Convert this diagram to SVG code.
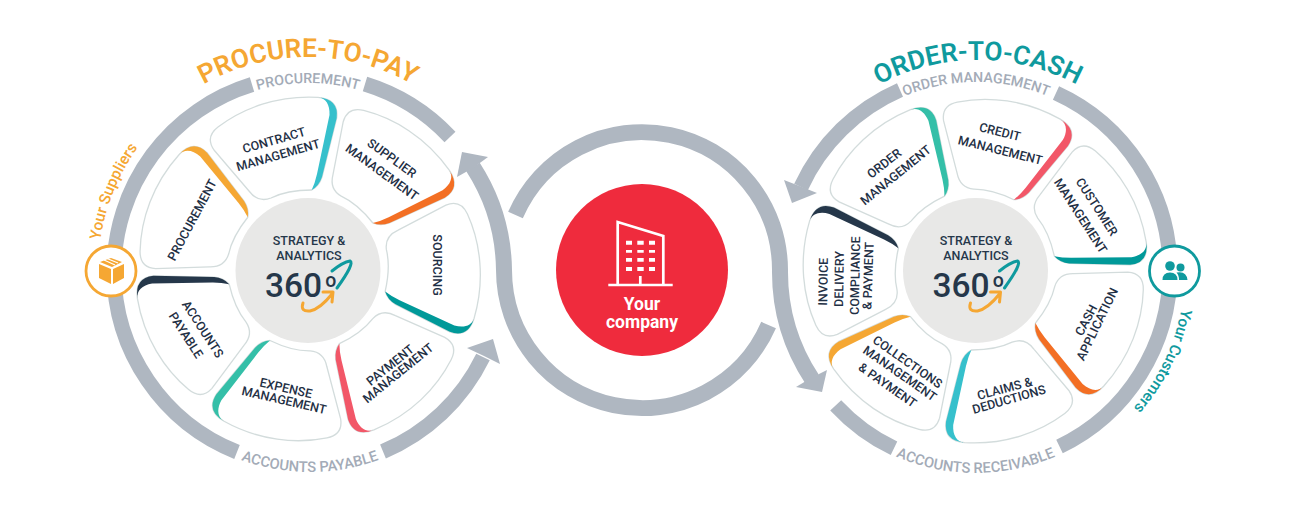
<svg xmlns="http://www.w3.org/2000/svg" width="1307" height="506" viewBox="0 0 1307 506">
<style>
text{font-family:Roboto,"Liberation Sans",sans-serif}
.t{font-size:12.500px;font-weight:500;fill:#1f3045;text-anchor:middle;dominant-baseline:central}
.s{font-size:12.500px;font-weight:500;fill:#25374a;text-anchor:middle}
.n{font-size:33.500px;font-weight:500;fill:#25374a}
.ring{font-size:14.200px;font-weight:500;fill:#a3abb7;text-anchor:middle}
.ringb{font-size:14.700px;font-weight:500;fill:#a3abb7;text-anchor:middle}
.title{font-size:26.300px;font-weight:600;text-anchor:middle}
.side{font-size:15.500px;font-weight:500}
.seg{fill:none;stroke:#afb7c1;stroke-width:15}
.flow{fill:none;stroke:#afb7c1;stroke-width:16}
.head{fill:#afb7c1}
.card{fill:#fff;stroke:#d3dcdc;stroke-width:1.300}
.hub{fill:#e8e8e7}
.sw{fill:none;stroke-width:3;stroke-linecap:round;stroke-linejoin:round}
.bldg{fill:none;stroke:#fff;stroke-width:2.700}
</style>
<defs>
<path id="cardShape" d="M10,-172.700C-30,-175 -65,-162 -90,-143Q-103,-133 -94,-120L-59,-79Q-50,-67 -37,-72C-25,-78 -10,-80 3.700,-80Q11,-84 14,-93L28.700,-152Q31,-171 10,-172.700Z"/>
<path id="cardBand" d="M10,-172.700C18,-172 22,-165 21.500,-155L9,-96Q7,-87 3.700,-80Q11,-84 14,-93L28.700,-152Q31,-171 10,-172.700Z"/>
<path id="arcTopL" d="M95,270A213,213 0 0 1 521,270"/>
<path id="arcTopR" d="M768,270A210,210 0 0 1 1188,270"/>
<path id="ringTopL" d="M121,270A187,187 0 0 1 495,270"/>
<path id="ringTopR" d="M788,270A188,188 0 0 1 1164,270"/>
<path id="ringBotL" d="M108,270A202,202 0 0 0 512,270"/>
<path id="ringBotR" d="M772.500,270A203,203 0 0 0 1178.500,270"/>
<path id="sideL" d="M98,271A211,211 0 0 1 520,271"/>
<path id="sideR" d="M1185,270A210,210 0 0 1 765,270"/>
</defs>

<g id="connectors">
<path class="seg" d="M365,84A195,195 0 0 1 450,137"/>
<path class="seg" d="M252,84.500A195,195 0 0 0 114,271A195,195 0 0 0 237,452"/>
<path class="seg" d="M383,451.500A195,195 0 0 0 483,357"/>
<polygon class="head" points="467,348 493,339 500,364 484,356"/>
<path class="seg" d="M900,90A195,195 0 0 0 801,187"/>
<polygon class="head" points="784,180 792,203 817,193 802,187"/>
<path class="seg" d="M1056,93A195,195 0 0 1 1170,270A195,195 0 0 1 1059.500,446.500"/>
<path class="seg" d="M894,448.300A195,195 0 0 1 835.700,405.300"/>
<path class="flow" d="M515.500,215A138,138 0 0 1 780,270A195,195 0 0 0 812,379"/>
<polygon class="head" points="796,387 822,392 827,370 811,378"/>
<path class="flow" d="M768.600,325A138,138 0 0 1 504,270A195,195 0 0 0 473,167"/>
<polygon class="head" points="488,157 462,152 457,177 473,168"/>
</g>

<g id="hub-left">
<circle class="hub" cx="308" cy="270.500" r="72.500"/>
<text class="s" x="309" y="245">STRATEGY &amp;</text>
<text class="s" x="309" y="260">ANALYTICS</text>
<text class="n" x="265" y="297">360<tspan font-size="19.500" dx="3" dy="-10">o</tspan></text>
<path class="sw" stroke="#0f9a9e" stroke-width="2.500" d="M332,271Q343,262 350,261Q355,263 337,288"/>
<path class="sw" stroke="#f5a733" d="M303,303Q300,312 310,311Q320,309 332,294M323,292L333,292L332,302"/>
</g>
<g id="hub-right">
<circle class="hub" cx="975.500" cy="270.500" r="72.500"/>
<text class="s" x="976" y="245">STRATEGY &amp;</text>
<text class="s" x="976" y="260">ANALYTICS</text>
<text class="n" x="932.500" y="297">360<tspan font-size="19.500" dx="3" dy="-10">o</tspan></text>
<path class="sw" stroke="#0f9a9e" stroke-width="2.500" d="M999.500,271Q1010.500,262 1017.500,261Q1022.500,263 1004.500,288"/>
<path class="sw" stroke="#f5a733" d="M970.500,303Q967.500,312 977.500,311Q987.500,309 999.500,294M990.500,292L1000.500,292L999.500,302"/>
</g>

<g id="contract-management">
<g transform="translate(308 270)"><use href="#cardShape" class="card"/><use href="#cardBand" fill="#36c0cc"/></g>
<text class="t" transform="translate(274 140) rotate(-16)">CONTRACT</text>
<text class="t" transform="translate(278 155) rotate(-16)">MANAGEMENT</text>
</g>
<g id="supplier-management">
<g transform="translate(308 270) rotate(51.430)"><use href="#cardShape" class="card"/><use href="#cardBand" fill="#f36f24"/></g>
<text class="t" transform="translate(392 158) rotate(36)">SUPPLIER</text>
<text class="t" transform="translate(382 172) rotate(36)">MANAGEMENT</text>
</g>
<g id="sourcing">
<g transform="translate(308 270) rotate(102.860)"><use href="#cardShape" class="card"/><use href="#cardBand" fill="#009999"/></g>
<text class="t" transform="translate(437 265) rotate(90)">SOURCING</text>
</g>
<g id="payment-management">
<g transform="translate(308 270) rotate(154.290)"><use href="#cardShape" class="card"/><use href="#cardBand" fill="#f25768"/></g>
<text class="t" transform="translate(390 365) rotate(-39)">PAYMENT</text>
<text class="t" transform="translate(398 373) rotate(-39)">MANAGEMENT</text>
</g>
<g id="expense-management">
<g transform="translate(308 270) rotate(205.710)"><use href="#cardShape" class="card"/><use href="#cardBand" fill="#34bfa8"/></g>
<text class="t" transform="translate(286 388) rotate(13)">EXPENSE</text>
<text class="t" transform="translate(284 400) rotate(13)">MANAGEMENT</text>
</g>
<g id="accounts-payable">
<g transform="translate(308 270) rotate(257.140)"><use href="#cardShape" class="card"/><use href="#cardBand" fill="#25374a"/></g>
<text class="t" transform="translate(203 329) rotate(57)">ACCOUNTS</text>
<text class="t" transform="translate(186 335) rotate(57)">PAYABLE</text>
</g>
<g id="procurement">
<g transform="translate(308 270) rotate(308.570)"><use href="#cardShape" class="card"/><use href="#cardBand" fill="#f5a733"/></g>
<text class="t" transform="translate(192 220) rotate(-62)">PROCUREMENT</text>
</g>

<g id="order-management">
<g transform="translate(975.500 270) rotate(-25.400)"><use href="#cardShape" class="card"/><use href="#cardBand" fill="#34bfa8"/></g>
<text class="t" transform="translate(884 163.300) rotate(-38)">ORDER</text>
<text class="t" transform="translate(895.500 175) rotate(-39)">MANAGEMENT</text>
</g>
<g id="credit-management">
<g transform="translate(975.500 270) rotate(26)"><use href="#cardShape" class="card"/><use href="#cardBand" fill="#f25768"/></g>
<text class="t" transform="translate(1000 131.700) rotate(14)">CREDIT</text>
<text class="t" transform="translate(1000.300 150) rotate(14)">MANAGEMENT</text>
</g>
<g id="customer-management">
<g transform="translate(975.500 270) rotate(77.400)"><use href="#cardShape" class="card"/><use href="#cardBand" fill="#009999"/></g>
<text class="t" transform="translate(1097 206.700) rotate(57)">CUSTOMER</text>
<text class="t" transform="translate(1080.700 215.700) rotate(57)">MANAGEMENT</text>
</g>
<g id="cash-application">
<g transform="translate(975.500 270) rotate(128.900)"><use href="#cardShape" class="card"/><use href="#cardBand" fill="#f36f24"/></g>
<text class="t" transform="translate(1086 320) rotate(-62)">CASH</text>
<text class="t" transform="translate(1097 324) rotate(-64)">APPLICATION</text>
</g>
<g id="claims-deductions">
<g transform="translate(975.500 270) rotate(180.300)"><use href="#cardShape" class="card"/><use href="#cardBand" fill="#36c0cc"/></g>
<text class="t" transform="translate(1004.700 388.300) rotate(-15)">CLAIMS &amp;</text>
<text class="t" transform="translate(1009 399.300) rotate(-16)">DEDUCTIONS</text>
</g>
<g id="collections-management">
<g transform="translate(975.500 270) rotate(231.700)"><use href="#cardShape" class="card"/><use href="#cardBand" fill="#f5a733"/></g>
<text class="t" transform="translate(907.700 361.700) rotate(35)">COLLECTIONS</text>
<text class="t" transform="translate(900 373.300) rotate(35)">MANAGEMENT</text>
<text class="t" transform="translate(887.700 385) rotate(35)">&amp; PAYMENT</text>
</g>
<g id="invoice-delivery">
<g transform="translate(975.500 270) rotate(283.100)"><use href="#cardShape" class="card"/><use href="#cardBand" fill="#25374a"/></g>
<text class="t" transform="translate(823 281.700) rotate(-89)">INVOICE</text>
<text class="t" transform="translate(839 279) rotate(-89)">DELIVERY</text>
<text class="t" transform="translate(855 275.700) rotate(-89)">COMPLIANCE</text>
<text class="t" transform="translate(868 275.700) rotate(-88)">&amp; PAYMENT</text>
</g>

<g id="your-company">
<circle cx="642" cy="270" r="86" fill="#ef2b3d"/>
<path class="bldg" d="M617.700,285V222L663.300,236V285M608.300,285H672.700M640.300,276V285"/>
<path fill="#fff" d="M626,240.700h6v4h-6zM637.300,240.700h6.400v4h-6.400zM649,240.700h6v4h-6zM626,250h6v2.700h-6zM637.300,250h6.400v2.700h-6.400zM649,250h6v2.700h-6zM626,258h6v3.700h-6zM637.300,258h6.400v3.700h-6.400zM649,258h6v3.700h-6zM626,267h6v4h-6zM637.300,267h6.400v4h-6.400zM649,267h6v4h-6z"/>
<text x="642" y="310" text-anchor="middle" font-size="17.500" font-weight="700" fill="#fff">Your</text>
<text x="642" y="328" text-anchor="middle" font-size="17.500" font-weight="700" fill="#fff">company</text>
</g>

<g id="your-suppliers">
<circle cx="111" cy="271" r="25" fill="#fff" stroke="#f5a733" stroke-width="2.800"/>
<path fill="#f5a733" d="M99,264L111,269V284L99,278ZM113,269L124,264V278L113,284ZM100,262L111,258L122,262L112,267Z"/>
<path fill="none" stroke="#fff" stroke-width="1.200" d="M104,260L115,265M107,258.500L118,263"/>
<text class="side" fill="#f5a733"><textPath href="#sideL" startOffset="31">Your Suppliers</textPath></text>
</g>
<g id="your-customers">
<circle cx="1174.500" cy="271" r="25" fill="#fff" stroke="#0f9a9e" stroke-width="2.800"/>
<g fill="#0f9a9e"><circle cx="1170" cy="266" r="4.800"/><circle cx="1180.500" cy="267.500" r="4"/><path d="M1162.500,280Q1162.500,272.500 1170,272.500Q1177.500,272.500 1177.500,280ZM1179,280Q1179,275 1176.500,272.500Q1186.500,270.500 1187.500,280Z"/></g>
<text class="side" fill="#0f9a9e"><textPath href="#sideR" startOffset="39">Your Customers</textPath></text>
</g>

<g id="labels">
<text class="title" fill="#f5a733"><textPath href="#arcTopL" startOffset="50%">PROCURE-TO-PAY</textPath></text>
<text class="title" fill="#0f9a9e"><textPath href="#arcTopR" startOffset="50%">ORDER-TO-CASH</textPath></text>
<text class="ring"><textPath href="#ringTopL" startOffset="50%">PROCUREMENT</textPath></text>
<text class="ring"><textPath href="#ringTopR" startOffset="50%">ORDER MANAGEMENT</textPath></text>
<text class="ringb"><textPath href="#ringBotL" startOffset="50%">ACCOUNTS PAYABLE</textPath></text>
<text class="ringb"><textPath href="#ringBotR" startOffset="50%">ACCOUNTS RECEIVABLE</textPath></text>
</g>
</svg>
